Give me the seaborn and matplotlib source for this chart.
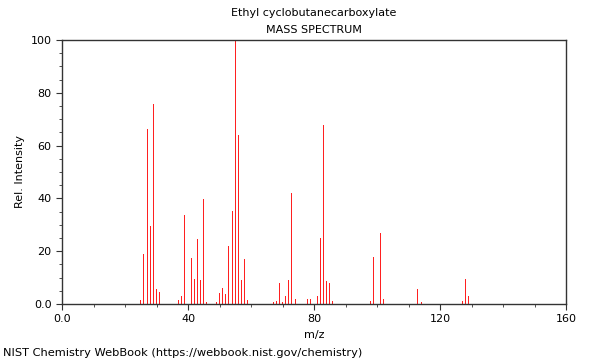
import numpy as np
import pandas as pd
import matplotlib
matplotlib.use('Agg')
import matplotlib.pyplot as plt
from matplotlib.ticker import MultipleLocator
import seaborn as sns

mz = [25, 26, 27, 28, 29, 30, 31, 37, 38, 39, 40, 41, 42, 43, 44, 45, 46,
      49, 50, 51, 52, 53, 54, 55, 56, 57, 58, 59, 60,
      67, 68, 69, 70, 71, 72, 73, 74, 78, 79, 81, 82, 83, 84, 85, 86,
      98, 99, 100, 101, 102, 113, 114, 127, 128, 129]
intensity = [1.5, 19, 66.3, 29.4, 75.6, 5.8, 4.5, 1.5, 3, 33.6, 4.2, 17.4, 9.6, 24.7, 9, 39.8, 0.9,
             0.6, 4, 6, 3.8, 22, 35.2, 100, 64, 9.1, 16.9, 1.5, 2.5,
             0.6, 1.1, 7.8, 0.6, 3, 9.1, 42, 2, 1.8, 2, 3, 25, 67.8, 8.7, 7.8, 1,
             1.1, 17.7, 67.2, 26.9, 1.9, 5.7, 0.8, 1.1, 9.5, 2.9]

df = pd.DataFrame({'mz': mz, 'intensity': intensity})

sns.set_style('white')
plt.rcParams['font.family'] = ['DejaVu Sans']
plt.rcParams['text.color'] = 'black'
plt.rcParams['axes.labelcolor'] = 'black'

fig = plt.figure(figsize=(6, 3.6), dpi=100)
ax = fig.add_axes([62 / 600, 1 - 304 / 360, 504 / 600, 264 / 360])

sns.barplot(data=df, x='mz', y='intensity', native_scale=True, width=0.3,
            color='#ff2020', saturation=1, linewidth=0, errorbar=None, ax=ax)

ax.set_xlim(0, 160)
ax.set_ylim(0, 100)
ax.xaxis.set_minor_locator(MultipleLocator(10))
ax.yaxis.set_minor_locator(MultipleLocator(5))
ax.set_xticks([0, 40, 80, 120, 160], ['0.0', '40', '80', '120', '160'])
ax.set_yticks([0, 20, 40, 60, 80, 100], ['0.0', '20', '40', '60', '80', '100'])
ax.tick_params(which='both', direction='out', colors='#333333', labelcolor='black',
               labelsize=8, bottom=True, left=True)
ax.tick_params(which='major', length=4)
ax.tick_params(which='minor', length=2)
for s in ax.spines.values():
    s.set_color('#333333')
    s.set_linewidth(1)

ax.set_xlabel('m/z', fontsize=8)
ax.set_ylabel('Rel. Intensity', fontsize=8)

fig.text(314 / 600, 1 - 13 / 360, 'Ethyl cyclobutanecarboxylate', ha='center', va='center', fontsize=8)
fig.text(314 / 600, 1 - 30 / 360, 'MASS SPECTRUM', ha='center', va='center', fontsize=8)
fig.text(3 / 600, 1 - 353 / 360, 'NIST Chemistry WebBook (https://webbook.nist.gov/chemistry)',
         ha='left', va='center', fontsize=8.2)

fig.savefig('out.png', dpi=100)
